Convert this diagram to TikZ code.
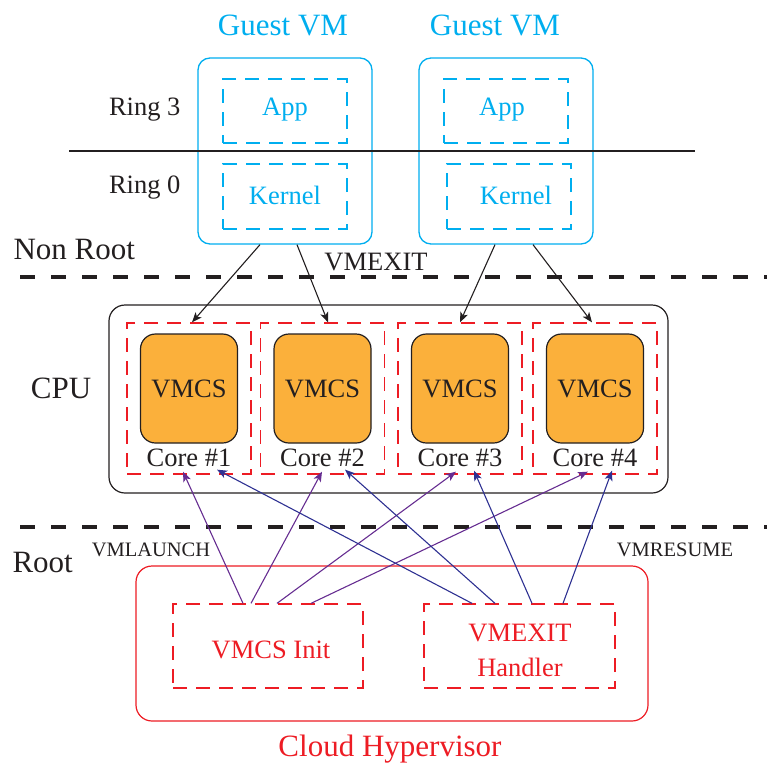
\documentclass[tikz,border=0pt]{standalone}
\usepackage{fontspec}
\setmainfont{Liberation Serif}
\usetikzlibrary{arrows.meta,calc}

\definecolor{ink}{HTML}{231F20}
\definecolor{guestcyan}{HTML}{00AEEF}
\definecolor{hvred}{HTML}{ED1C24}
\definecolor{vmcsorange}{HTML}{FBB03B}
\definecolor{launchpurple}{HTML}{662D91}
\definecolor{resumeblue}{HTML}{2E3192}

\tikzset{
  big/.style={font=\fontsize{31}{34}\selectfont},
  mid/.style={font=\fontsize{26.5}{30}\selectfont},
  small/.style={font=\fontsize{20.5}{23}\selectfont},
  plainbox/.style={draw, rectangle, inner sep=0pt, line width=1.3pt},
  guestbox/.style={plainbox, draw=guestcyan, rounded corners=12pt},
  guestdash/.style={plainbox, draw=guestcyan, dash pattern=on 14pt off 9pt},
  coredash/.style={plainbox, draw=hvred, dash pattern=on 14pt off 9pt},
  hvdash/.style={plainbox, draw=hvred, dash pattern=on 14pt off 9pt},
  vmcsbox/.style={plainbox, draw=ink, fill=vmcsorange, rounded corners=15pt, line width=1.2pt},
  cpubox/.style={plainbox, draw=ink, rounded corners=16pt, line width=1.2pt},
  hvbox/.style={plainbox, draw=hvred, rounded corners=16pt, line width=1.2pt},
  modeline/.style={draw=ink, line width=4pt, dash pattern=on 15pt off 16pt},
  tip/.style={-{Stealth[length=10pt,width=8pt,inset=2.5pt]}, line width=1.1pt},
  exitarrow/.style={tip, draw=ink},
  launcharrow/.style={tip, draw=launchpurple},
  resumearrow/.style={tip, draw=resumeblue},
}

\begin{document}
\begin{tikzpicture}[x=1pt, y=-1pt]
  \useasboundingbox (0,0) rectangle (767,771);

  % ---- guest VMs (non-root mode) ----
  \node[guestbox, minimum width=174pt, minimum height=186pt] (g1) at (285,151) {};
  \node[guestbox, minimum width=174pt, minimum height=186pt] (g2) at (506,151) {};
  \node[big, text=guestcyan] (g1t) at (283,25) {Guest VM};
  \node[big, text=guestcyan] (g2t) at (495,25) {Guest VM};

  \node[guestdash, minimum width=124pt, minimum height=64pt] (app1) at (285,111) {};
  \node[guestdash, minimum width=124pt, minimum height=65pt] (ker1) at (285,196.5) {};
  \node[guestdash, minimum width=124pt, minimum height=64pt] (app2) at (506,111) {};
  \node[guestdash, minimum width=124pt, minimum height=65pt] (ker2) at (509,196.5) {};
  \node[mid, text=guestcyan] (app1t) at (285,110) {App};
  \node[mid, text=guestcyan] (ker1t) at (285,195) {Kernel};
  \node[mid, text=guestcyan] (app2t) at (502,110) {App};
  \node[mid, text=guestcyan] (ker2t) at (516,195) {Kernel};

  % ring boundary
  \coordinate (ringL) at (69,151);
  \coordinate (ringR) at (695,151);
  \draw[ink, line width=1.1pt] (ringL) -- (ringR);
  \node[mid, text=ink, anchor=east] (r3) at (184,110) {Ring 3};
  \node[mid, text=ink, anchor=east] (r0) at (184,188) {Ring 0};

  % ---- root / non-root boundary ----
  \node[big, text=ink, anchor=west] (nonroot) at (10,249) {Non Root};
  \coordinate (nrL) at (20,277);
  \coordinate (nrR) at (767,277);
  \draw[modeline] (nrL) -- (nrR);
  \node[mid, text=ink] (exitlbl) at (376,262) {VMEXIT};

  % ---- CPU with four cores ----
  \node[cpubox, minimum width=559pt, minimum height=188pt] (cpu) at (388.5,399) {};
  \node[big, text=ink] (cputxt) at (61,388) {CPU};

  \foreach \i/\x in {1/189, 2/322.5, 3/460, 4/595}{
    \node[coredash, minimum width=124pt, minimum height=151pt] (core\i) at (\x,398.5) {};
    \node[vmcsbox, minimum width=97pt, minimum height=109pt, mid, text=ink] (vmcs\i) at (\x,388.5) {VMCS};
    \node[mid, text=ink] (core\i t) at (\x,458) {Core \#\i};
  }

  % VM exits from the guests into the cores
  \draw[exitarrow] ([xshift=-25pt]g1.south) -- ([xshift=3pt]core1.north);
  \draw[exitarrow] ([xshift=12pt]g1.south) -- ([xshift=5.5pt]core2.north);
  \draw[exitarrow] ([xshift=-11pt]g2.south) -- ([xshift=0pt]core3.north);
  \draw[exitarrow] ([xshift=27pt]g2.south) -- ([xshift=-3pt]core4.north);

  % ---- root mode ----
  \coordinate (rtL) at (20,527);
  \coordinate (rtR) at (767,527);
  \draw[modeline] (rtL) -- (rtR);
  \node[big, text=ink, anchor=west] (root) at (9,562) {Root};
  \node[small, text=ink] (launchlbl) at (151,550) {VMLAUNCH};
  \node[small, text=ink] (resumelbl) at (675,550) {VMRESUME};

  \node[hvbox, minimum width=512pt, minimum height=155pt] (hv) at (392,643.5) {};
  \node[big, text=hvred] (hvt) at (390,749) {Cloud Hypervisor};
  \node[hvdash, minimum width=190pt, minimum height=84pt] (init) at (268,646) {};
  \node[hvdash, minimum width=191pt, minimum height=84pt] (handler) at (519.5,646) {};
  \node[mid, text=hvred] (initt) at (271,650) {VMCS Init};
  \node[mid, text=hvred] (handlert1) at (520,633) {VMEXIT};
  \node[mid, text=hvred] (handlert2) at (520,667) {Handler};

  % VMLAUNCH from the VMCS init code
  \draw[launcharrow] ([xshift=-25pt]init.north) -- ([xshift=-6pt,yshift=3pt]core1.south);
  \draw[launcharrow] ([xshift=-17pt]init.north) -- ([xshift=-0.5pt,yshift=3pt]core2.south);
  \draw[launcharrow] ([xshift=9pt]init.north) -- ([xshift=-4pt,yshift=3pt]core3.south);
  \draw[launcharrow] ([xshift=43pt]init.north) -- ([xshift=-7pt,yshift=3pt]core4.south);

  % VMRESUME from the exit handler
  \draw[resumearrow] ([xshift=-47.5pt]handler.north) -- ([xshift=28pt,yshift=5pt]core1.south);
  \draw[resumearrow] ([xshift=-24.5pt]handler.north) -- ([xshift=22.5pt,yshift=5pt]core2.south);
  \draw[resumearrow] ([xshift=12.5pt]handler.north) -- ([xshift=14pt,yshift=4pt]core3.south);
  \draw[resumearrow] ([xshift=43.5pt]handler.north) -- ([xshift=17pt,yshift=4pt]core4.south);
\end{tikzpicture}
\end{document}
